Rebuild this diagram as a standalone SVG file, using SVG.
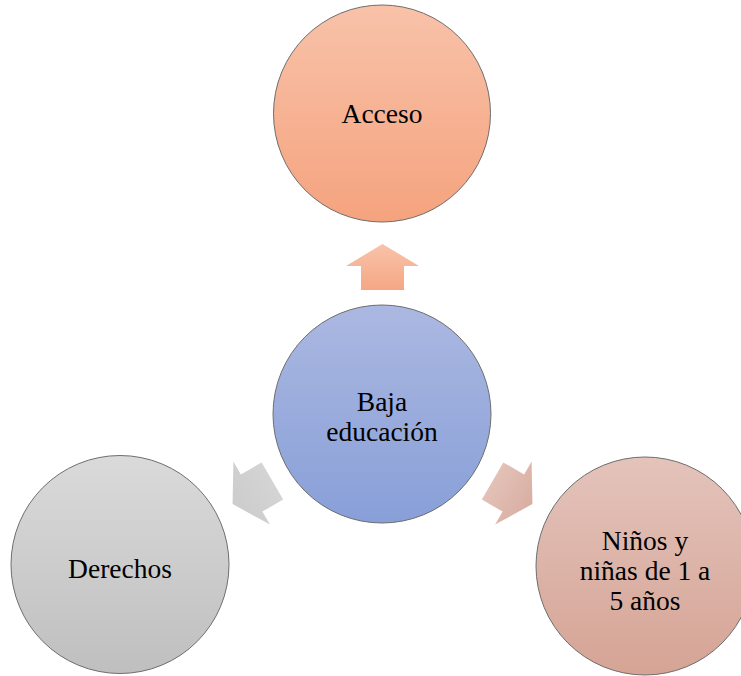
<svg xmlns="http://www.w3.org/2000/svg" width="741" height="676" viewBox="0 0 741 676">
<defs>
<linearGradient id="gTop" x1="0" y1="0" x2="0" y2="1"><stop offset="0" stop-color="#f8c2a9"/><stop offset="1" stop-color="#f5a37e"/></linearGradient>
<linearGradient id="gMid" x1="0" y1="0" x2="0" y2="1"><stop offset="0" stop-color="#abb8e1"/><stop offset="1" stop-color="#889fd8"/></linearGradient>
<linearGradient id="gLeft" x1="0" y1="0" x2="0" y2="1"><stop offset="0" stop-color="#dadada"/><stop offset="1" stop-color="#bfbfbf"/></linearGradient>
<linearGradient id="gRight" x1="0" y1="0" x2="0" y2="1"><stop offset="0" stop-color="#e4c3bb"/><stop offset="1" stop-color="#d5a495"/></linearGradient>
<linearGradient id="aTop" x1="0" y1="0" x2="0" y2="1"><stop offset="0" stop-color="#f8c3aa"/><stop offset="1" stop-color="#f5a784"/></linearGradient>
<linearGradient id="aLeft" x1="0" y1="0" x2="0" y2="1"><stop offset="0" stop-color="#cccccc"/><stop offset="1" stop-color="#d4d4d4"/></linearGradient>
<linearGradient id="aRight" x1="0" y1="0" x2="0" y2="1"><stop offset="0" stop-color="#d9aea2"/><stop offset="1" stop-color="#e3c1b7"/></linearGradient>
<path id="arrow" d="M0,-23 L36.5,-1 L21.5,-1 L21.5,23 L-21.5,23 L-21.5,-1 L-36.5,-1 Z"/>
</defs>
<style>
.node circle{stroke:#6e6e6e;stroke-width:1}
.node text{font-family:"Liberation Serif","Times New Roman",serif;font-size:27.5px;fill:#000;text-anchor:middle}
</style>
<g id="connectors">
<use href="#arrow" transform="translate(382.5,267)" fill="url(#aTop)"/>
<use href="#arrow" transform="translate(252.5,492.5) rotate(-120)" fill="url(#aLeft)"/>
<use href="#arrow" transform="translate(512.5,492.5) rotate(120)" fill="url(#aRight)"/>
</g>
<g id="node-acceso" class="node">
<circle cx="382" cy="113.5" r="108.5" fill="url(#gTop)"/>
<text x="382" y="123">Acceso</text>
</g>
<g id="node-baja" class="node">
<circle cx="382" cy="414" r="109" fill="url(#gMid)"/>
<text x="382" y="411">Baja</text>
<text x="382" y="440.5">educación</text>
</g>
<g id="node-derechos" class="node">
<circle cx="120" cy="564.5" r="109" fill="url(#gLeft)"/>
<text x="120" y="578">Derechos</text>
</g>
<g id="node-ninos" class="node">
<circle cx="645" cy="566" r="109" fill="url(#gRight)"/>
<text x="645" y="550">Niños y</text>
<text x="645" y="580">niñas de 1 a</text>
<text x="645" y="610">5 años</text>
</g>
</svg>
